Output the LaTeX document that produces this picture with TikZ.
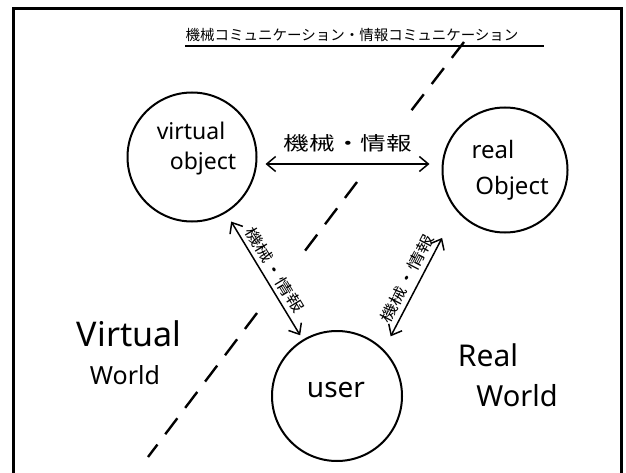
\documentclass[tikz,border=0pt]{standalone}
\usepackage{fontspec}
\setmainfont{Noto Sans}
\newfontfamily\jp{Noto Sans CJK JP}
\usetikzlibrary{arrows.meta}
\tikzset{
  circ/.style={circle, draw, line width=2pt, inner sep=0pt},
  arr/.style={line width=1.5pt, {Straight Barb[length=9pt,width=15pt]}-{Straight Barb[length=9pt,width=15pt]}},
  dashline/.style={line width=2.4pt, dash pattern=on 20pt off 13pt},
  fs/.style={font=\fontsize{#1}{#1}\selectfont},
  jplab/.style={font=\jp\fontsize{#1}{#1}\selectfont, inner sep=1pt}
}
\begin{document}
\begin{tikzpicture}[x=1pt, y=-1pt]
\useasboundingbox (0,0) rectangle (626,473);
% frame
\draw[line width=3pt] (13,473) -- (13,9) -- (621,9) -- (621,473);
% title
\node[jplab=14.5, inner sep=0pt] (title) at (352,35) {機械コミュニケーション・情報コミュニケーション};
\draw[line width=1.6pt] ([yshift=-4pt]title.south west) -- ([xshift=25pt,yshift=-4pt]title.south east);
% dashed boundary
\draw[dashline] (464,42) -- (404,120);
\draw[dashline] (357,182) -- (298,260);
\draw[dashline] (257,313) -- (148,457);
% circles
\node[circ, minimum size=129pt] (vo) at (192,157) {};
\node[circ, minimum size=125pt] (ro) at (505,170) {};
\node[circ, minimum size=130pt] (us) at (337,396) {};
% circle texts
\node[fs=23] (t1) at (191,131) {virtual};
\node[fs=23] (t2) at (203,164) {object};
\node[fs=24] (t3) at (493,150) {real};
\node[fs=24] (t4) at (512,188) {Object};
\node[fs=28] (t5) at (336,390) {user};
% world labels
\node[fs=34] (w1) at (129,334) {Virtual};
\node[fs=25] (w2) at (125,375) {World};
\node[fs=30] (w3) at (488,355) {Real};
\node[fs=29] (w4) at (517,396) {World};
% connectors
\draw[arr] ([shift={(8,7)}]vo.east) -- ([shift={(-12,-6)}]ro.west);
\draw[arr, shorten <=10pt, shorten >=5pt] (vo) -- node[jplab=15, sloped, above=3.5pt, pos=0.5] (l2) {\scalebox{1.3}[1]{機械・情報}} (us);
\draw[arr] ([shift={(-18,23)}]ro.225) -- node[jplab=15, sloped, above=3.5pt, pos=0.47] (l3) {\scalebox{1.3}[1]{機械・情報}} ([shift={(7,-13)}]us.45);
% connector label
\node[jplab=19] (l1) at (348,143) {\scalebox{1.35}[1]{機械・情報}};
\end{tikzpicture}
\end{document}
